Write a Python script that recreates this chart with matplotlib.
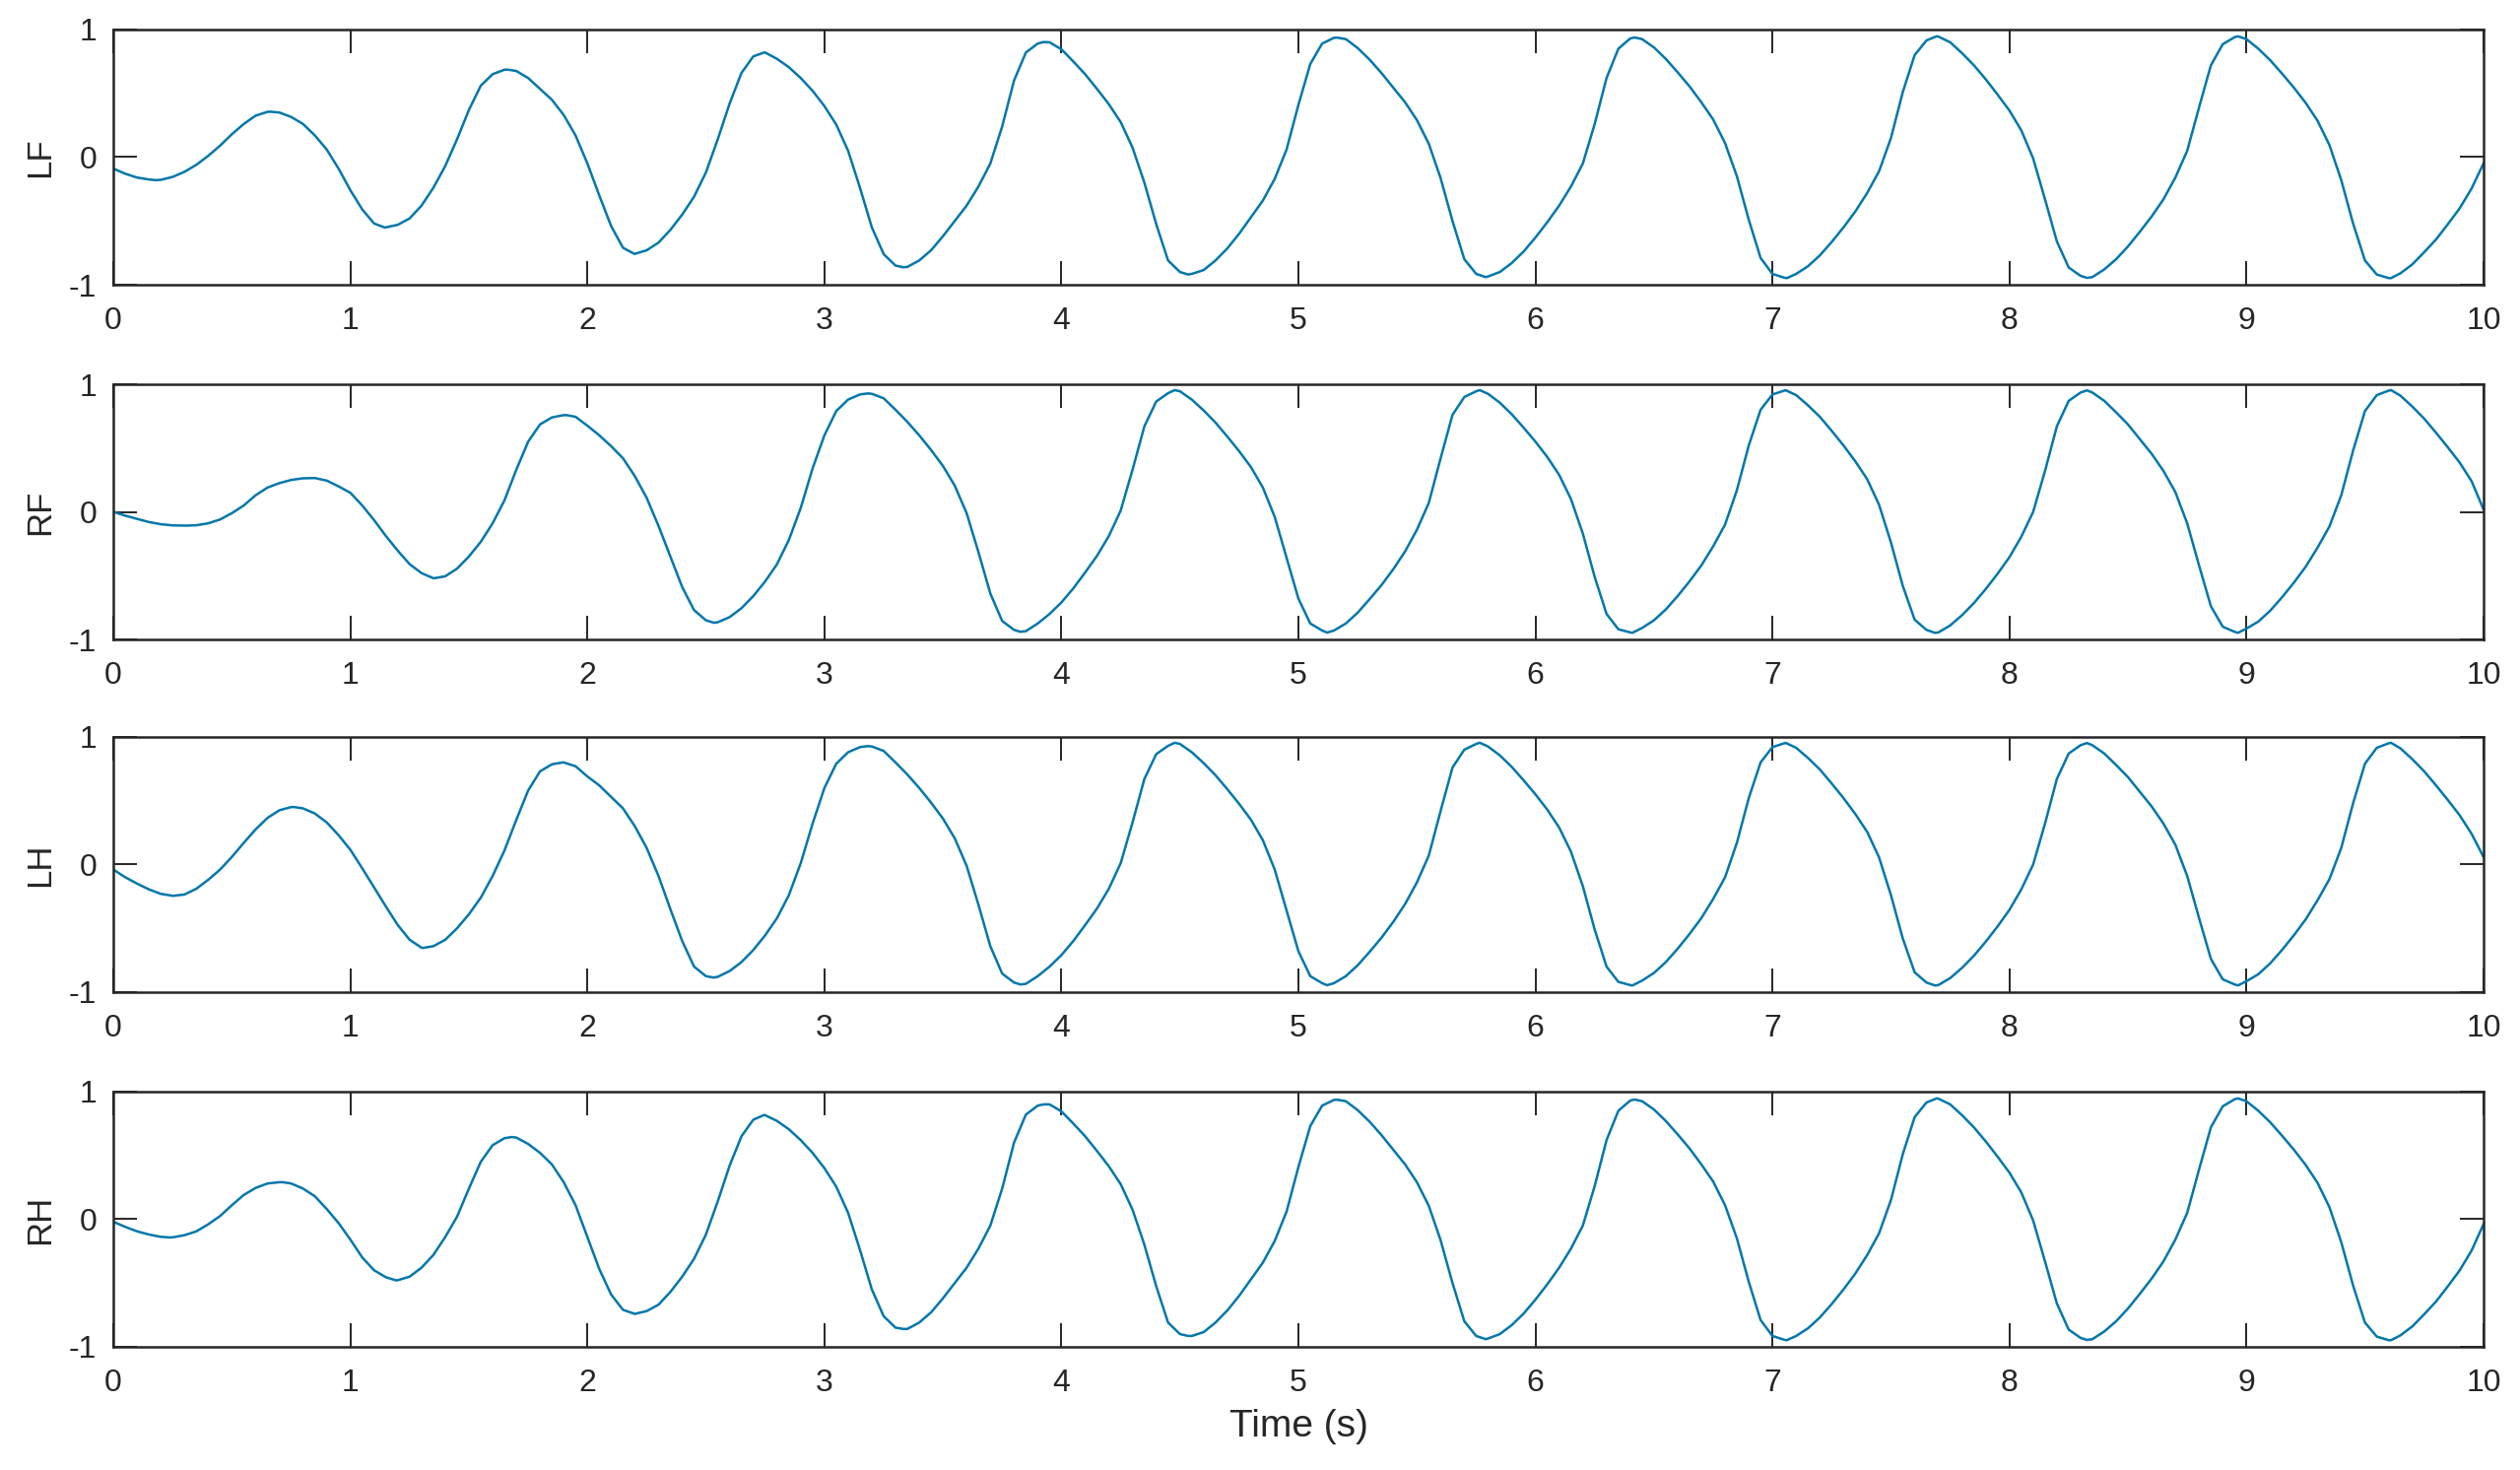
import numpy as np
import matplotlib
matplotlib.use("Agg")
import matplotlib.pyplot as plt

plt.rcParams['font.family'] = ['Liberation Sans', 'DejaVu Sans']
plt.rcParams['axes.unicode_minus'] = False

# sampling times (s), one value every 0.05 s
time = np.linspace(0, 10, 201)

# CPG outputs, one row per second
lf = [
    -0.09, -0.13, -0.16, -0.175, -0.178, -0.155, -0.115, -0.06, 0.01, 0.09, 0.18, 0.26, 0.325, 0.355, 0.35, 0.315, 0.26, 0.17, 0.06, -0.09,
    -0.26, -0.41, -0.52, -0.55, -0.53, -0.48, -0.38, -0.24, -0.07, 0.14, 0.37, 0.56, 0.65, 0.685, 0.675, 0.62, 0.535, 0.45, 0.33, 0.17,
    -0.05, -0.30, -0.54, -0.71, -0.758, -0.73, -0.67, -0.57, -0.45, -0.31, -0.12, 0.14, 0.42, 0.66, 0.79, 0.82, 0.77, 0.705, 0.62, 0.52,
    0.40, 0.255, 0.05, -0.24, -0.55, -0.76, -0.85, -0.86, -0.81, -0.73, -0.62, -0.50, -0.38, -0.23, -0.05, 0.24, 0.60, 0.82, 0.89, 0.90,
    0.845, 0.75, 0.65, 0.535, 0.415, 0.275, 0.075, -0.20, -0.525, -0.81, -0.90, -0.915, -0.885, -0.81, -0.715, -0.60, -0.47, -0.34, -0.17, 0.06,
    0.41, 0.73, 0.89, 0.935, 0.925, 0.855, 0.765, 0.66, 0.545, 0.43, 0.29, 0.105, -0.165, -0.50, -0.80, -0.915, -0.935, -0.90, -0.83, -0.74,
    -0.63, -0.51, -0.38, -0.23, -0.05, 0.26, 0.62, 0.85, 0.93, 0.925, 0.86, 0.77, 0.665, 0.555, 0.43, 0.295, 0.11, -0.15, -0.49, -0.79,
    -0.915, -0.945, -0.915, -0.855, -0.77, -0.665, -0.55, -0.425, -0.28, -0.11, 0.15, 0.51, 0.80, 0.915, 0.945, 0.90, 0.815, 0.72, 0.61, 0.49,
    0.365, 0.21, -0.01, -0.33, -0.66, -0.865, -0.93, -0.94, -0.88, -0.80, -0.70, -0.585, -0.465, -0.33, -0.16, 0.05, 0.39, 0.72, 0.885, 0.94,
    0.925, 0.85, 0.76, 0.655, 0.545, 0.425, 0.285, 0.095, -0.18, -0.52, -0.81, -0.92, -0.948, -0.91, -0.84, -0.745, -0.645, -0.525, -0.40, -0.245,
    -0.05,
]

rf = [
    0.0, -0.03, -0.055, -0.08, -0.097, -0.106, -0.108, -0.105, -0.09, -0.06, -0.01, 0.05, 0.13, 0.19, 0.225, 0.25, 0.263, 0.265, 0.245, 0.2,
    0.149, 0.05, -0.065, -0.19, -0.305, -0.41, -0.48, -0.52, -0.505, -0.445, -0.35, -0.235, -0.09, 0.09, 0.33, 0.55, 0.685, 0.74, 0.758, 0.745,
    0.675, 0.6, 0.515, 0.42, 0.28, 0.11, -0.11, -0.35, -0.59, -0.77, -0.85, -0.865, -0.825, -0.755, -0.66, -0.545, -0.41, -0.22, 0.03, 0.34,
    0.6, 0.79, 0.88, 0.92, 0.925, 0.89, 0.80, 0.705, 0.60, 0.485, 0.36, 0.205, -0.01, -0.316, -0.64, -0.855, -0.925, -0.935, -0.875, -0.80,
    -0.71, -0.60, -0.475, -0.345, -0.19, 0.01, 0.33, 0.67, 0.865, 0.93, 0.945, 0.88, 0.795, 0.70, 0.59, 0.475, 0.35, 0.19, -0.04, -0.36,
    -0.68, -0.875, -0.93, -0.93, -0.875, -0.79, -0.685, -0.575, -0.45, -0.31, -0.14, 0.07, 0.42, 0.76, 0.90, 0.945, 0.925, 0.855, 0.765, 0.66,
    0.55, 0.43, 0.29, 0.10, -0.17, -0.51, -0.80, -0.92, -0.945, -0.91, -0.85, -0.765, -0.66, -0.545, -0.42, -0.27, -0.10, 0.17, 0.52, 0.80,
    0.92, 0.95, 0.915, 0.835, 0.745, 0.635, 0.52, 0.395, 0.255, 0.055, -0.24, -0.58, -0.845, -0.925, -0.945, -0.89, -0.81, -0.715, -0.605, -0.485,
    -0.355, -0.195, 0.0, 0.32, 0.67, 0.87, 0.935, 0.935, 0.87, 0.78, 0.685, 0.57, 0.455, 0.32, 0.155, -0.09, -0.42, -0.74, -0.90, -0.94,
    -0.915, -0.86, -0.775, -0.67, -0.555, -0.43, -0.28, -0.115, 0.13, 0.48, 0.79, 0.915, 0.95, 0.91, 0.825, 0.73, 0.62, 0.505, 0.385, 0.24,
    0.02,
]

lh = [
    -0.04, -0.1, -0.15, -0.195, -0.23, -0.245, -0.235, -0.19, -0.12, -0.04, 0.06, 0.17, 0.275, 0.365, 0.425, 0.45, 0.44, 0.4, 0.33, 0.23,
    0.115, -0.03, -0.18, -0.33, -0.475, -0.59, -0.652, -0.64, -0.59, -0.5, -0.39, -0.26, -0.09, 0.11, 0.35, 0.58, 0.73, 0.785, 0.80, 0.77,
    0.69, 0.62, 0.53, 0.44, 0.3, 0.13, -0.09, -0.35, -0.6, -0.8, -0.875, -0.88, -0.835, -0.765, -0.67, -0.555, -0.42, -0.24, 0.01, 0.32,
    0.6, 0.79, 0.88, 0.92, 0.925, 0.89, 0.80, 0.705, 0.60, 0.485, 0.36, 0.205, -0.01, -0.316, -0.64, -0.855, -0.925, -0.935, -0.875, -0.80,
    -0.71, -0.60, -0.475, -0.345, -0.19, 0.01, 0.33, 0.67, 0.865, 0.93, 0.945, 0.88, 0.795, 0.70, 0.59, 0.475, 0.35, 0.19, -0.04, -0.36,
    -0.68, -0.875, -0.93, -0.93, -0.875, -0.79, -0.685, -0.575, -0.45, -0.31, -0.14, 0.07, 0.42, 0.76, 0.90, 0.945, 0.925, 0.855, 0.765, 0.66,
    0.55, 0.43, 0.29, 0.10, -0.17, -0.51, -0.80, -0.92, -0.945, -0.91, -0.85, -0.765, -0.66, -0.545, -0.42, -0.27, -0.10, 0.17, 0.52, 0.80,
    0.92, 0.95, 0.915, 0.835, 0.745, 0.635, 0.52, 0.395, 0.255, 0.055, -0.24, -0.58, -0.845, -0.925, -0.945, -0.89, -0.81, -0.715, -0.605, -0.485,
    -0.355, -0.195, 0.0, 0.32, 0.67, 0.87, 0.935, 0.935, 0.87, 0.78, 0.685, 0.57, 0.455, 0.32, 0.155, -0.09, -0.42, -0.74, -0.90, -0.94,
    -0.915, -0.86, -0.775, -0.67, -0.555, -0.43, -0.28, -0.115, 0.13, 0.48, 0.79, 0.915, 0.95, 0.91, 0.825, 0.73, 0.62, 0.505, 0.385, 0.24,
    0.06,
]

rh = [
    -0.02, -0.06, -0.095, -0.12, -0.138, -0.142, -0.125, -0.095, -0.04, 0.025, 0.11, 0.19, 0.245, 0.28, 0.29, 0.28, 0.24, 0.18, 0.08, -0.03,
    -0.16, -0.3, -0.4, -0.455, -0.478, -0.45, -0.38, -0.28, -0.14, 0.02, 0.24, 0.45, 0.58, 0.635, 0.64, 0.59, 0.52, 0.43, 0.29, 0.11,
    -0.14, -0.39, -0.59, -0.71, -0.742, -0.72, -0.67, -0.57, -0.45, -0.31, -0.12, 0.14, 0.42, 0.65, 0.78, 0.815, 0.77, 0.705, 0.62, 0.52,
    0.40, 0.255, 0.05, -0.24, -0.55, -0.76, -0.85, -0.86, -0.81, -0.73, -0.62, -0.50, -0.38, -0.23, -0.05, 0.24, 0.60, 0.82, 0.89, 0.90,
    0.845, 0.75, 0.65, 0.535, 0.415, 0.275, 0.075, -0.20, -0.525, -0.81, -0.90, -0.915, -0.885, -0.81, -0.715, -0.60, -0.47, -0.34, -0.17, 0.06,
    0.41, 0.73, 0.89, 0.935, 0.925, 0.855, 0.765, 0.66, 0.545, 0.43, 0.29, 0.105, -0.165, -0.50, -0.80, -0.915, -0.935, -0.90, -0.83, -0.74,
    -0.63, -0.51, -0.38, -0.23, -0.05, 0.26, 0.62, 0.85, 0.93, 0.925, 0.86, 0.77, 0.665, 0.555, 0.43, 0.295, 0.11, -0.15, -0.49, -0.79,
    -0.915, -0.945, -0.915, -0.855, -0.77, -0.665, -0.55, -0.425, -0.28, -0.11, 0.15, 0.51, 0.80, 0.915, 0.945, 0.90, 0.815, 0.72, 0.61, 0.49,
    0.365, 0.21, -0.01, -0.33, -0.66, -0.865, -0.93, -0.94, -0.88, -0.80, -0.70, -0.585, -0.465, -0.33, -0.16, 0.05, 0.39, 0.72, 0.885, 0.94,
    0.925, 0.85, 0.76, 0.655, 0.545, 0.425, 0.285, 0.095, -0.18, -0.52, -0.81, -0.92, -0.948, -0.91, -0.84, -0.745, -0.645, -0.525, -0.40, -0.245,
    -0.04,
]

# peaks and troughs (time, value)
lf_ext_t = [0.179, 0.663, 1.144, 1.664, 2.198, 2.746, 3.333, 3.924, 4.535, 5.162, 5.79, 6.418, 7.061, 7.693, 8.327, 8.964, 9.61]
lf_ext_v = [-0.18, 0.356, -0.551, 0.686, -0.758, 0.82, -0.863, 0.902, -0.92, 0.937, -0.94, 0.938, -0.948, 0.947, -0.946, 0.947, -0.948]
rf_ext_t = [0.31, 0.841, 1.354, 1.912, 2.534, 3.183, 3.827, 4.478, 5.121, 5.765, 6.409, 7.055, 7.686, 8.327, 8.964, 9.61]
rf_ext_v = [-0.108, 0.265, -0.52, 0.758, -0.869, 0.928, -0.94, 0.954, -0.946, 0.954, -0.948, 0.954, -0.948, 0.952, -0.948, 0.954]
lh_ext_t = [0.25, 0.763, 1.306, 1.895, 2.532, 3.183, 3.827, 4.478, 5.121, 5.765, 6.409, 7.055, 7.686, 8.327, 8.964, 9.61]
lh_ext_v = [-0.246, 0.45, -0.654, 0.80, -0.886, 0.928, -0.94, 0.954, -0.946, 0.954, -0.948, 0.954, -0.948, 0.952, -0.948, 0.954]
rh_ext_t = [0.238, 0.715, 1.192, 1.681, 2.2, 2.746, 3.333, 3.924, 4.535, 5.162, 5.79, 6.418, 7.061, 7.693, 8.327, 8.964, 9.61]
rh_ext_v = [-0.143, 0.29, -0.479, 0.644, -0.742, 0.817, -0.86, 0.90, -0.915, 0.937, -0.94, 0.938, -0.948, 0.947, -0.946, 0.947, -0.948]

legs = ['LF', 'RF', 'LH', 'RH']
series = [lf, rf, lh, rh]
extremes = [(lf_ext_t, lf_ext_v), (rf_ext_t, rf_ext_v), (lh_ext_t, lh_ext_v), (rh_ext_t, rh_ext_v)]
x_ticks = list(range(11))
y_ticks = [-1, 0, 1]

line_color = '#0377AB'
axis_color = '#262626'

fig = plt.figure(figsize=(25.58, 14.92), dpi=100)

# axes boxes in figure fractions (left, bottom, width, height)
bottoms = [0.8063, 0.5650, 0.3251, 0.0838]
for name, vals, (et, ev), b in zip(legs, series, extremes, bottoms):
    # merge the sampled points with the read peaks/troughs, ordered in time
    t_all = np.concatenate([time, et])
    v_all = np.concatenate([vals, ev])
    order = np.argsort(t_all, kind='stable')

    ax = fig.add_axes([0.0450, b, 0.9405, 0.1736])
    ax.plot(t_all[order], v_all[order], color=line_color, linewidth=1.8,
            solid_joinstyle='round')
    ax.set_xlim(0, 10)
    ax.set_ylim(-1, 1)
    ax.set_xticks(x_ticks)
    ax.set_yticks(y_ticks)
    ax.tick_params(direction='in', length=17, width=1.4, top=True, right=True,
                   labelsize=23, colors=axis_color)
    ax.tick_params(axis='x', pad=16)
    ax.tick_params(axis='y', pad=12)
    for sp in ax.spines.values():
        sp.set_linewidth(1.8)
        sp.set_color(axis_color)
    ax.set_ylabel(name, fontsize=25, color=axis_color)
    ax.yaxis.set_label_coords(-0.024, 0.5)

ax.set_xlabel('Time (s)', fontsize=28, color=axis_color, labelpad=8)

fig.savefig('out.png', dpi=100)
